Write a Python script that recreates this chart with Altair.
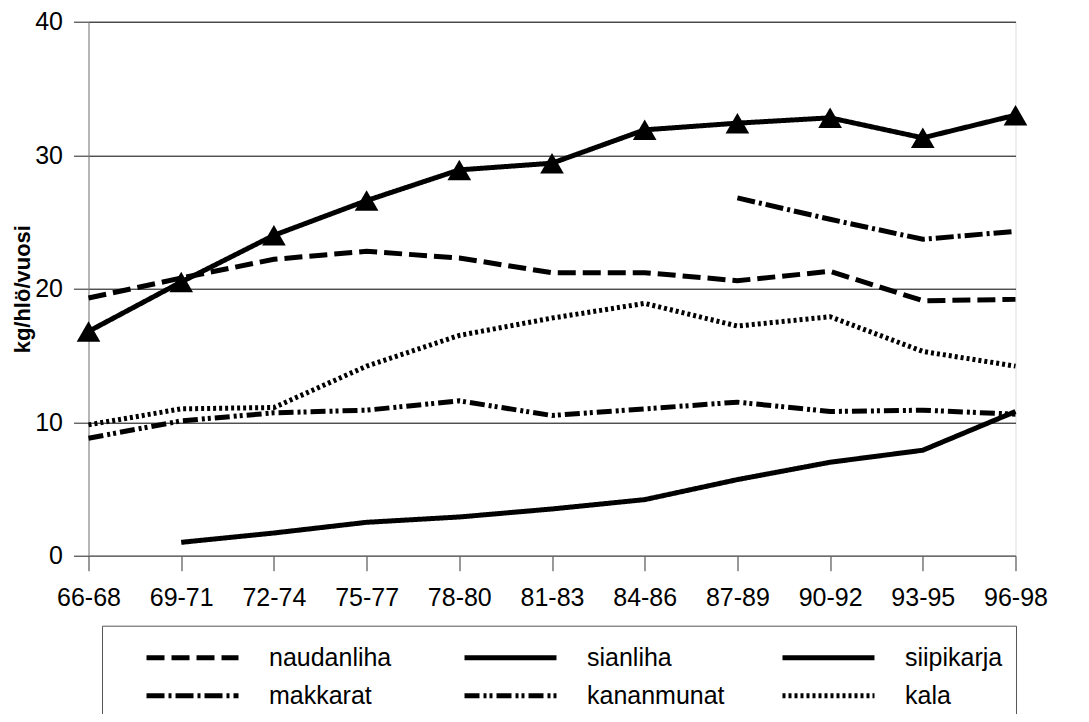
import altair as alt
import pandas as pd

periods = ["66-68", "69-71", "72-74", "75-77", "78-80", "81-83",
           "84-86", "87-89", "90-92", "93-95", "96-98"]

naudanliha = [19.3, 20.8, 22.2, 22.8, 22.3, 21.2, 21.2, 20.6, 21.3, 19.1, 19.2]
sianliha = [16.8, 20.5, 24.0, 26.6, 28.9, 29.4, 31.9, 32.4, 32.8, 31.3, 33.0]
siipikarja = [None, 1.0, 1.7, 2.5, 2.9, 3.5, 4.2, 5.7, 7.0, 7.9, 10.8]
makkarat = [None, None, None, None, None, None, None, 26.8, 25.2, 23.7, 24.3]
kananmunat = [8.8, 10.1, 10.7, 10.9, 11.6, 10.5, 11.0, 11.5, 10.8, 10.9, 10.6]
kala = [9.8, 11.0, 11.1, 14.2, 16.5, 17.8, 18.9, 17.2, 17.9, 15.3, 14.2]

series_names = ["naudanliha", "sianliha", "siipikarja", "makkarat", "kananmunat", "kala"]
series_values = [naudanliha, sianliha, siipikarja, makkarat, kananmunat, kala]
dashes = [[18, 7], [1, 0], [1, 0], [18, 4, 3, 4], [15, 4, 3, 3, 3, 4], [3, 3]]

rows = []
for name, vals in zip(series_names, series_values):
    for p, v in zip(periods, vals):
        if v is not None:
            rows.append({"jakso": p, "sarja": name, "arvo": v})
df = pd.DataFrame(rows)

FONT = "Liberation Sans"

x = alt.X("jakso:N", sort=periods, scale=alt.Scale(type="point", padding=0),
          axis=alt.Axis(title=None, labelAngle=0, tickSize=15, tickColor="#333",
                        domainColor="#808080", labelFontSize=25, labelFont=FONT,
                        labelColor="black", labelPadding=15, grid=False))
y = alt.Y("arvo:Q", scale=alt.Scale(domain=[0, 40], nice=False),
          axis=alt.Axis(title="kg/hlö/vuosi", values=[0, 10, 20, 30, 40],
                        tickSize=15, tickColor="#222", domainColor="#808080",
                        grid=True, gridColor="black", gridWidth=1,
                        labelFontSize=25, labelFont=FONT, labelColor="black",
                        labelPadding=11, titleFont=FONT, titleFontSize=22,
                        titleFontWeight="bold", titleColor="black", titlePadding=0))

lines = alt.Chart(df).mark_line(color="black", strokeWidth=5).encode(
    x=x, y=y,
    strokeDash=alt.StrokeDash(
        "sarja:N",
        scale=alt.Scale(domain=series_names, range=dashes),
        legend=alt.Legend(
            title=None, orient="none", legendX=13.5, legendY=604,
            columns=3, direction="horizontal", gridAlign="all",
            symbolType="stroke", symbolSize=8464, symbolStrokeWidth=5,
            symbolStrokeColor="black", clipHeight=38, rowPadding=0,
            columnPadding=26, padding=13, symbolOffset=29, labelOffset=28,
            labelFont=FONT, labelFontSize=25, labelColor="black",
            strokeColor="#555", labelLimit=300,
        ),
    ),
    detail="sarja:N",
)

points = alt.Chart(df).transform_filter(alt.datum.sarja == "sianliha").mark_point(
    shape="triangle-up", filled=True, color="black", size=560, opacity=1
).encode(x=x, y=y)

chart = alt.layer(lines, points).properties(
    width=927, height=534,
    autosize=alt.AutoSizeParams(type="none"),
    padding={"left": 80.5, "top": 13.7, "right": 65, "bottom": 158},
).configure_view(stroke=None).configure(background="white")

chart.save("out.html", embed_options={"renderer": "svg", "actions": False})
